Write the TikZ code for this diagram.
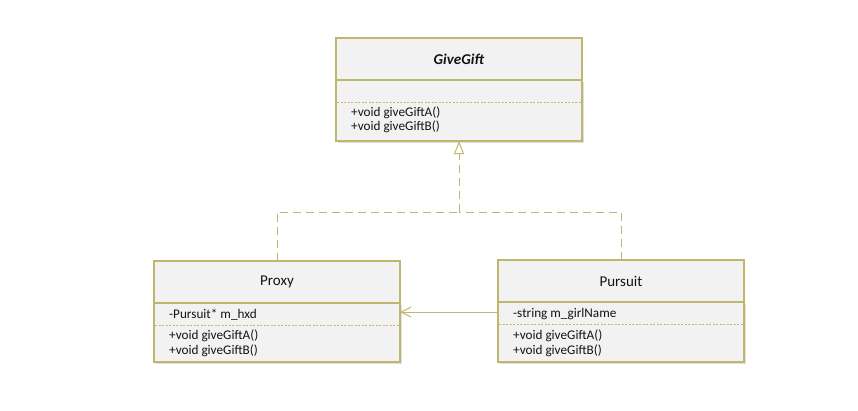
\documentclass[tikz,border=0pt]{standalone}
\usepackage{fontspec}
\setmainfont{Carlito}
\usepackage{tikz}
\usetikzlibrary{arrows.meta, positioning, calc, shadows}
\definecolor{umlline}{RGB}{191,183,112}
\definecolor{umlfill}{RGB}{242,242,242}
\definecolor{umltext}{RGB}{20,20,20}
\tikzset{
  hdr/.style={rectangle, draw=umlline, fill=umlfill, minimum width=246pt, minimum height=42pt,
    anchor=north west, line width=1.3pt, inner sep=0pt, outer sep=0pt,
    font=\fontsize{15}{17}\selectfont\color{umltext}},
  body/.style={rectangle, draw=umlline, fill=umlfill, minimum width=246pt, minimum height=60pt,
    anchor=north west, line width=1.3pt, inner sep=0pt, outer sep=0pt,
    drop shadow={shadow xshift=1.5pt, shadow yshift=-1.5pt, opacity=0.25}},
  member/.style={anchor=west, inner sep=0pt, font=\fontsize{13.2}{15}\selectfont\color{umltext}},
  sep/.style={umlline, line width=0.8pt, dash pattern=on 2pt off 1.5pt},
  inherit/.style={umlline, line width=1pt, dash pattern=on 8pt off 5pt},
  assoc/.style={umlline, line width=1pt}
}
\begin{document}
\begin{tikzpicture}[x=1pt, y=-1pt]
\useasboundingbox (0,0) rectangle (858,410);
%--- GiveGift (interface) ---
\node[hdr] (gghead) at (336,38) {\textbf{\textit{GiveGift}}};
\node[body, minimum height=61pt] (ggbody) at (gghead.south west) {};
\draw[sep] (337,102) -- (581,102);
\node[member] (gga) at (351,113) {+void giveGiftA()};
\node[member] (ggb) at (351,127) {+void giveGiftB()};

%--- Proxy ---
\node[hdr] (prhead) at (154,261) {Proxy};
\node[body, minimum height=59pt] (prbody) at (prhead.south west) {};
\node[member] (prattr) at (169,315) {-Pursuit* m\_hxd};
\draw[sep] (155,325) -- (400,325);
\node[member] (pra) at (169,336) {+void giveGiftA()};
\node[member] (prb) at (169,351) {+void giveGiftB()};

%--- Pursuit ---
\node[hdr] (puhead) at (498,260) {Pursuit};
\node[body] (pubody) at (puhead.south west) {};
\node[member] (puattr) at (513,314) {-string m\_girlName};
\draw[sep] (499,324) -- (744,324);
\node[member] (pua) at (513,336) {+void giveGiftA()};
\node[member] (pub) at (513,351) {+void giveGiftB()};

% realization
\coordinate (join) at (ggbody.south |- 0,212);
\draw[inherit] (prhead.north) |- (join);
\draw[inherit] (puhead.north) |- (join);
\draw[inherit, -{Triangle[open, length=13pt, width=10pt, line width=1pt]}] (join) -- (ggbody.south);
% association
\coordinate (pupt) at ($(pubody.north west)+(0,10)$);
\draw[assoc, -{Straight Barb[length=10pt, width=10pt, line width=1pt]}] (pupt) -- (prbody.east |- pupt);
\end{tikzpicture}
\end{document}
